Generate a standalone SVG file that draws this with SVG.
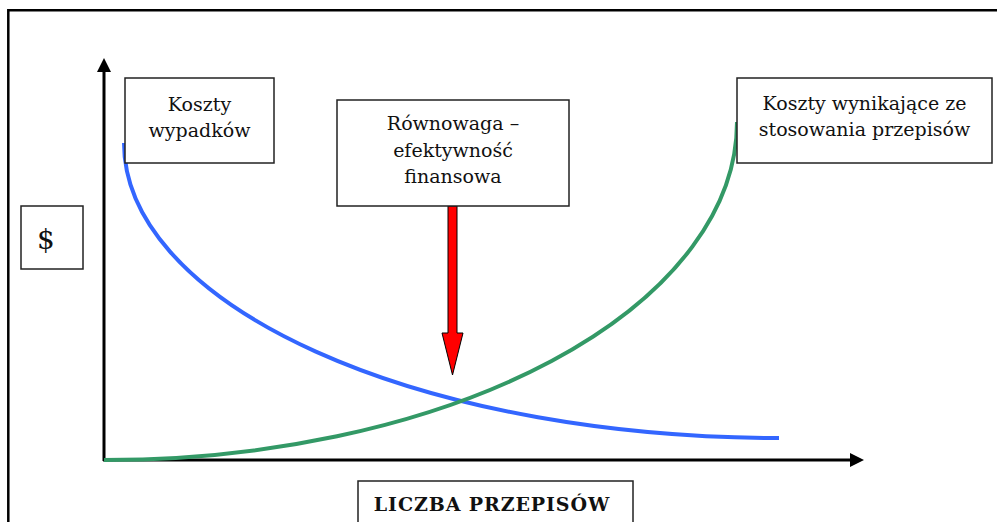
<svg xmlns="http://www.w3.org/2000/svg" width="997" height="522" viewBox="0 0 997 522">
<style>
.box{fill:#fff;stroke:#222;stroke-width:1.5}
.t{font-family:"DejaVu Serif","Liberation Serif",serif;font-size:19px;fill:#111;text-anchor:middle}
.axis{stroke:#000;stroke-width:3;fill:none}
.curve{fill:none;stroke-width:4;stroke-linecap:butt}
</style>
<defs>
<marker id="ah" markerUnits="userSpaceOnUse" markerWidth="14" markerHeight="14" refX="0" refY="7" orient="auto">
<path d="M0,0 L14,7 L0,14 z" fill="#000"/>
</marker>
</defs>
<rect width="997" height="522" fill="#fff"/>
<path d="M8.3,530 V10.3 H1000" fill="none" stroke="#000" stroke-width="2.5"/>
<g id="connectors">
<line class="axis" x1="104" y1="461" x2="104" y2="72" marker-end="url(#ah)"/>
<line class="axis" x1="103" y1="460" x2="850" y2="460" marker-end="url(#ah)"/>
<path id="blue-curve" class="curve" stroke="#3366FF" d="M124,143 A655,295 0 0 0 779,438"/>
<path id="green-curve" class="curve" stroke="#339966" d="M104,460 A633,338 0 0 0 737,122"/>
<polygon id="red-arrow" points="448,206 457,206 457,333 463,333 452.5,375 442,333 448,333" fill="#FF0000" stroke="#000" stroke-width="1"/>
</g>
<g id="node-koszty-wypadkow">
<rect class="box" x="125" y="78" width="149" height="85"/>
<text class="t" x="199.5" y="111">Koszty</text>
<text class="t" x="199.5" y="137">wypadków</text>
</g>
<g id="node-rownowaga">
<rect class="box" x="337" y="100" width="232" height="106"/>
<text class="t" x="453" y="130">Równowaga –</text>
<text class="t" x="453" y="157">efektywność</text>
<text class="t" x="453" y="183">finansowa</text>
</g>
<g id="node-koszty-przepisow">
<rect class="box" x="737" y="78" width="255" height="85"/>
<text class="t" x="864.5" y="110">Koszty wynikające ze</text>
<text class="t" x="864.5" y="136">stosowania przepisów</text>
</g>
<g id="node-dollar">
<rect class="box" x="21" y="206" width="62" height="63"/>
<text class="t" x="37" y="249" style="text-anchor:start;font-size:28px">$</text>
</g>
<g id="node-liczba">
<rect class="box" x="358" y="481" width="275" height="60"/>
<text class="t" x="492" y="511" style="font-weight:bold;font-size:19px;letter-spacing:0.9px">LICZBA PRZEPISÓW</text>
</g>
</svg>
